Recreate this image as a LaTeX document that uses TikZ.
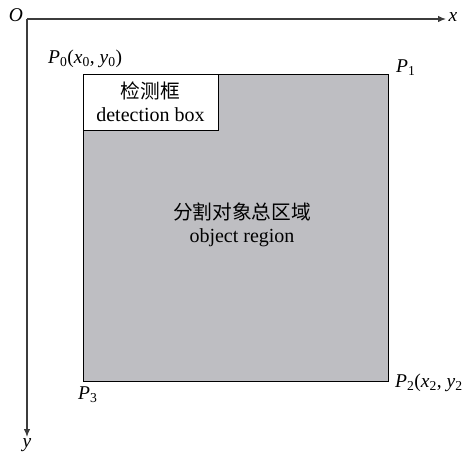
\documentclass[tikz,border=0pt]{standalone}
\usepackage{fontspec}
\setmainfont{Liberation Serif}
\newfontfamily\cjk{Noto Sans CJK SC}
\usetikzlibrary{arrows.meta}
\definecolor{regiongray}{RGB}{190,190,194}
\definecolor{axisgray}{RGB}{60,60,60}
\tikzset{
  axisline/.style={draw=axisgray, line width=1.2bp, -{Latex[length=8bp,width=6.5bp]}},
  lbl/.style={font=\fontsize{19.5bp}{22bp}\selectfont, inner sep=0pt},
  boxtext/.style={font=\fontsize{20bp}{23bp}\selectfont, align=center, inner sep=0pt},
}
\newcommand{\vi}[1]{\textit{#1}}
\newcommand{\cjktext}[1]{{\cjk\fontsize{19.7bp}{23bp}\selectfont #1}}
\begin{document}
\begin{tikzpicture}[x=1bp,y=-1bp]
\useasboundingbox (0,0) rectangle (462,456);
% axes
\coordinate (O) at (27,19);
\coordinate (X) at (446,19);
\coordinate (Y) at (27,437);
\draw[axisline] (O) -- (X);
\draw[axisline] (O) -- (Y);
\node[lbl] (olab) at (16,15) {\vi{O}};
\node[lbl] (xlab) at (453,17) {\vi{x}};
\node[lbl] (ylab) at (27,445) {\vi{y}};
% region
\draw[fill=regiongray, draw=black, line width=1bp] (83,75) rectangle (388,381);
\draw[fill=white, draw=black, line width=1bp] (83,75) rectangle (218,131);
\node[boxtext] (det) at (150.5,102) {\cjktext{检测框}\\detection box};
\node[boxtext] (reg) at (242,225) {\cjktext{分割对象总区域}\\object region};
% corner labels
\node[lbl, anchor=west] (p0) at (48,59) {\vi{P}\textsubscript{0}(\vi{x}\textsubscript{0}, \vi{y}\textsubscript{0})};
\node[lbl, anchor=west] (p1) at (396,68) {\vi{P}\textsubscript{1}};
\node[lbl, anchor=west] (p2) at (395,383) {\vi{P}\textsubscript{2}(\vi{x}\textsubscript{2}, \vi{y}\textsubscript{2})};
\node[lbl, anchor=west] (p3) at (78,395) {\vi{P}\textsubscript{3}};
\end{tikzpicture}
\end{document}
